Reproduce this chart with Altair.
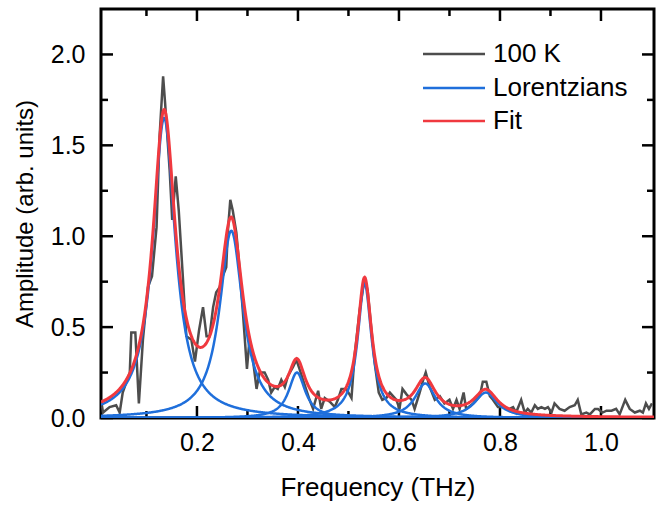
import altair as alt
import pandas as pd
import numpy as np

freq = [0.010, 0.014, 0.027, 0.040, 0.047, 0.053, 0.067, 0.070, 0.078, 0.085,
        0.093, 0.103, 0.111, 0.120, 0.126, 0.133, 0.137, 0.146, 0.151, 0.158,
        0.164, 0.172, 0.179, 0.189, 0.196, 0.204, 0.212, 0.219, 0.225, 0.232,
        0.238, 0.245, 0.251, 0.258, 0.261, 0.266, 0.271, 0.278, 0.285, 0.291,
        0.299, 0.304, 0.310, 0.318, 0.324, 0.334, 0.341, 0.347, 0.354, 0.360,
        0.367, 0.374, 0.380, 0.390, 0.397, 0.403, 0.410, 0.423, 0.430, 0.440,
        0.446, 0.453, 0.463, 0.473, 0.479, 0.486, 0.496, 0.506, 0.512, 0.522,
        0.532, 0.538, 0.545, 0.552, 0.560, 0.567, 0.575, 0.582, 0.595, 0.601,
        0.607, 0.615, 0.625, 0.631, 0.641, 0.648, 0.653, 0.661, 0.671, 0.681,
        0.690, 0.700, 0.707, 0.714, 0.720, 0.728, 0.733, 0.747, 0.760, 0.766,
        0.773, 0.780, 0.786, 0.796, 0.806, 0.813, 0.819, 0.826, 0.832, 0.842,
        0.849, 0.855, 0.862, 0.869, 0.875, 0.882, 0.889, 0.895, 0.902, 0.908,
        0.918, 0.928, 0.938, 0.948, 0.954, 0.961, 0.971, 0.978, 0.988, 0.994,
        1.003, 1.011, 1.021, 1.030, 1.037, 1.048, 1.057, 1.067, 1.077, 1.083,
        1.089, 1.095, 1.101]
amp = [0.10, 0.03, 0.06, 0.07, 0.03, 0.14, 0.25, 0.47, 0.47, 0.08,
       0.43, 0.72, 0.78, 1.05, 1.55, 1.88, 1.73, 1.36, 1.09, 1.33,
       1.14, 0.78, 0.45, 0.43, 0.31, 0.48, 0.61, 0.45, 0.45, 0.61,
       0.69, 0.72, 0.78, 0.83, 1.02, 1.20, 1.14, 1.02, 0.80, 0.58,
       0.27, 0.43, 0.34, 0.16, 0.25, 0.25, 0.21, 0.14, 0.17, 0.16,
       0.21, 0.17, 0.23, 0.28, 0.32, 0.27, 0.21, 0.10, 0.05, 0.15,
       0.05, 0.11, 0.09, 0.06, 0.10, 0.16, 0.16, 0.11, 0.34, 0.59,
       0.77, 0.70, 0.50, 0.30, 0.14, 0.10, 0.11, 0.14, 0.10, 0.05,
       0.16, 0.13, 0.10, 0.05, 0.14, 0.21, 0.25, 0.17, 0.10, 0.12,
       0.08, 0.10, 0.05, 0.10, 0.05, 0.14, 0.05, 0.08, 0.12, 0.20,
       0.20, 0.12, 0.10, 0.06, 0.06, 0.05, 0.05, 0.06, 0.03, 0.10,
       0.03, 0.05, 0.03, 0.07, 0.05, 0.06, 0.05, 0.06, 0.03, 0.08,
       0.05, 0.04, 0.06, 0.07, 0.10, 0.02, 0.03, 0.02, 0.05, 0.05,
       0.03, 0.04, 0.04, 0.05, 0.02, 0.10, 0.05, 0.03, 0.04, 0.03,
       0.08, 0.05, 0.08]

# ---- Lorentzian fit parameters ----
centers = [0.135, 0.268, 0.398, 0.532, 0.652, 0.772]
heights = [1.65, 1.03, 0.25, 0.74, 0.19, 0.14]
hwhm = [0.027, 0.028, 0.020, 0.0168, 0.0247, 0.028]

x_ticks_major = [0.2, 0.4, 0.6, 0.8, 1.0]
x_ticks_minor = [0.1, 0.3, 0.5, 0.7, 0.9]
y_ticks_major = [0.0, 0.5, 1.0, 1.5, 2.0]
y_ticks_minor = [0.25, 0.75, 1.25, 1.75]

legend_labels = ["100 K", "Lorentzians", "Fit"]

X_DOMAIN = [0.01, 1.105]
Y_DOMAIN = [0.0, 2.25]
W, H = 553, 409
FONT = "Liberation Sans"
GRAY, BLUE, RED = "#4d4d4d", "#1f6fdb", "#f0393f"

grid = np.linspace(X_DOMAIN[0], X_DOMAIN[1], 1100)
lor_rows = []
fit_vals = np.zeros_like(grid)
for i, (c, a, g) in enumerate(zip(centers, heights, hwhm)):
    yv = a / (1.0 + ((grid - c) / g) ** 2)
    fit_vals += yv
    lor_rows.append(pd.DataFrame({"f": grid, "a": yv, "peak": f"L{i+1}"}))
lor_df = pd.concat(lor_rows, ignore_index=True)
fit_df = pd.DataFrame({"f": grid, "a": fit_vals})
data_df = pd.DataFrame({"f": freq, "a": amp})

xs = alt.Scale(domain=X_DOMAIN, nice=False, zero=False)
ys = alt.Scale(domain=Y_DOMAIN, nice=False, zero=False)

axis_style = dict(labelFont=FONT, titleFont=FONT, labelFontSize=25,
                  labelColor="black", titleColor="black", titleFontWeight="normal",
                  ticks=False, domain=False, grid=False, format=".1f")
x_axis = alt.Axis(values=x_ticks_major, title="Frequency (THz)", titleFontSize=26,
                  labelPadding=12, titlePadding=19, **axis_style)
y_axis = alt.Axis(values=y_ticks_major, title="Amplitude (arb. units)", titleFontSize=24,
                  labelPadding=16, titlePadding=13, **axis_style)
x_enc = alt.X("f:Q", scale=xs, axis=x_axis)
y_enc = alt.Y("a:Q", scale=ys, axis=y_axis)


def xtick_layer(vals, length, top):
    df = pd.DataFrame({"f": vals})
    y0 = 0 if top else H
    y1 = length if top else H - length
    return alt.Chart(df).mark_rule(color="black", strokeWidth=2.5).encode(
        x=x_enc, y=alt.value(y0), y2=alt.value(y1))


def ytick_layer(vals, length, right):
    df = pd.DataFrame({"a": vals})
    x0 = W if right else 0
    x1 = W - length if right else length
    return alt.Chart(df).mark_rule(color="black", strokeWidth=2.5).encode(
        y=y_enc, x=alt.value(x0), x2=alt.value(x1))


ticks = [
    xtick_layer(x_ticks_major, 12, False), xtick_layer(x_ticks_minor, 7, False),
    xtick_layer(x_ticks_major, 12, True), xtick_layer(x_ticks_minor, 7, True),
    ytick_layer(y_ticks_major, 12, False), ytick_layer(y_ticks_minor, 7, False),
    ytick_layer(y_ticks_major, 12, True), ytick_layer(y_ticks_minor, 7, True),
]

gray_line = alt.Chart(data_df).mark_line(color=GRAY, strokeWidth=2.5, clip=True).encode(
    x=x_enc, y=y_enc)
blue_lines = alt.Chart(lor_df).mark_line(color=BLUE, strokeWidth=2.5, clip=True).encode(
    x=x_enc, y=y_enc, detail="peak:N")
red_line = alt.Chart(fit_df).mark_line(color=RED, strokeWidth=3, clip=True).encode(
    x=x_enc, y=y_enc)

# manual legend
leg_colors = [GRAY, BLUE, RED]
leg_rows = [45, 79, 112]
legend_layers = []
for lab, col, ry in zip(legend_labels, leg_colors, leg_rows):
    legend_layers.append(
        alt.Chart(pd.DataFrame({"k": [lab]})).mark_rule(color=col, strokeWidth=2.5).encode(
            x=alt.value(322), x2=alt.value(384), y=alt.value(ry)))
    legend_layers.append(
        alt.Chart(pd.DataFrame({"k": [lab]})).mark_text(
            align="left", baseline="middle", font=FONT, fontSize=26, color="black").encode(
            x=alt.value(392), y=alt.value(ry), text="k:N"))

chart = alt.layer(*ticks, gray_line, blue_lines, red_line, *legend_layers).properties(
    width=W, height=H,
    autosize=alt.AutoSizeParams(type="none"),
    padding={"left": 101, "top": 9, "right": 10, "bottom": 88},
    view=alt.ViewBackground(stroke="black", strokeWidth=3, fill="white"),
).configure(background="white")

chart.save("out.html", embed_options={"renderer": "svg", "actions": False})
